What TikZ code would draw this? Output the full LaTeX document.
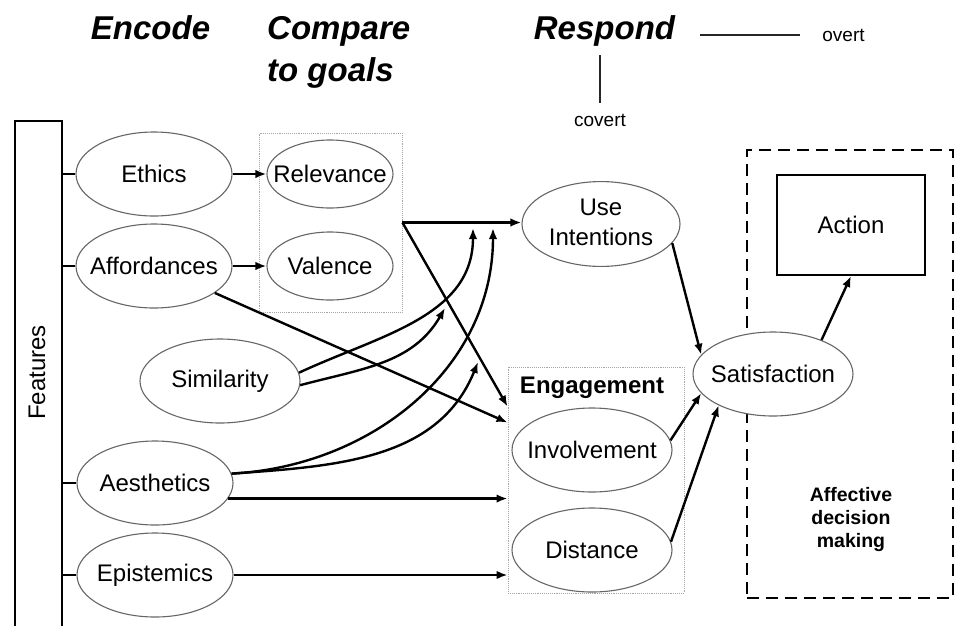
\documentclass[tikz,border=0pt]{standalone}
\usepackage{fontspec}
\setmainfont{Liberation Sans}
\usetikzlibrary{arrows.meta,shapes.geometric,calc}
\newcommand\ovl[1]{\makebox[0pt][c]{#1}}
\begin{document}
\begin{tikzpicture}[x=1pt,y=1pt,
  oval/.style={ellipse,draw=black!60,fill=white,line width=1.1pt,inner sep=0pt,
    minimum width=156pt,minimum height=84pt,
    font=\fontsize{24}{30}\selectfont},
  grpbox/.style={rectangle,draw=black!35,densely dotted,line width=0.9pt,inner sep=0pt},
  title/.style={font=\fontsize{33}{42}\selectfont\bfseries\itshape,inner sep=0pt},
  small/.style={font=\fontsize{19}{23}\selectfont,inner sep=0pt},
  arr/.style={line width=2.4pt,-{Latex[length=11pt,width=8.5pt]}},
  stub/.style={line width=2.4pt},
  thinline/.style={line width=1.2pt,black!85},
]
\useasboundingbox (0,0) rectangle (954,-625);

% titles
\node[title] (encode) at (150.5,-28) {Encode};
\node[title,align=left,anchor=north west] (compare) at (267,-16) {Compare\\to goals};
\node[title] (respond) at (604.5,-31) {Respond};
\node[small] (overt) at (843.5,-35) {overt};
\node[small] (covert) at (600,-120) {covert};
\coordinate (ovA) at (700,-35);
\coordinate (ovB) at (800,-35);
\coordinate (cvA) at (600,-55);
\coordinate (cvB) at (600,-103);
\draw[thinline] (ovA) -- (ovB);
\draw[thinline] (cvA) -- (cvB);

% features bar
\node[rectangle,draw,line width=2pt,minimum width=47pt,minimum height=518pt,inner sep=0pt] (features) at (38.5,-380) {};
\node[rotate=90,font=\fontsize{24}{30}\selectfont,inner sep=0pt] (featlabel) at (37,-372.5) {Features};

% affective decision making (drawn first, behind the Satisfaction oval)
\node[rectangle,draw,line width=2pt,dash pattern=on 12pt off 7pt,minimum width=206pt,minimum height=448pt,inner sep=0pt] (adm) at (850,-374) {};
\node[rectangle,draw,line width=2pt,minimum width=148pt,minimum height=100pt,inner sep=0pt,font=\fontsize{24}{30}\selectfont] (action) at (851,-225) {Action};
\node[font=\fontsize{19.5}{23}\selectfont\bfseries,align=center,inner sep=0pt] (admlabel) at (851,-519) {Affective\\decision\\making};

% encode ovals
\node[oval] (ethics) at (154,-174) {\ovl{Ethics}};
\node[oval] (affordances) at (154,-266) {\ovl{Affordances}};
\node[oval,minimum width=160pt] (similarity) at (220,-381) {\ovl{Similarity}};
\node[oval] (aesthetics) at (155,-483) {\ovl{Aesthetics}};
\node[oval] (epistemics) at (155,-575) {\ovl{Epistemics}};

% compare box
\node[grpbox,minimum width=143pt,minimum height=179pt] (cmpbox) at (330.5,-222.5) {};
\node[oval,minimum width=126pt,minimum height=68pt] (relevance) at (330,-174) {\ovl{Relevance}};
\node[oval,minimum width=126pt,minimum height=68pt] (valence) at (330,-266) {\ovl{Valence}};

% respond
\node[oval,minimum width=158pt] (useint) at (601,-224) {\ovl{\raisebox{-2pt}{\begin{tabular}{@{}c@{}}Use\\Intentions\end{tabular}}}};
\node[grpbox,minimum width=176pt,minimum height=226pt] (engbox) at (596,-480) {};
\node[font=\fontsize{24}{30}\selectfont\bfseries,inner sep=0pt] (engtitle) at (592,-388) {Engagement};
\node[oval,minimum width=160pt] (involvement) at (592,-450) {\ovl{Involvement}};
\node[oval,minimum width=160pt] (distance) at (592,-550) {\ovl{Distance}};
\node[oval,minimum width=160pt] (satisfaction) at (773,-374) {\ovl{Satisfaction}};

% stubs
\draw[stub] (features.east |- ethics) -- (ethics.west);
\draw[stub] (features.east |- affordances) -- (affordances.west);
\draw[stub] (features.east |- aesthetics) -- (aesthetics.west);
\draw[stub] (features.east |- epistemics) -- (epistemics.west);

% encode -> compare
\draw[arr] (ethics) -- (relevance);
\draw[arr] (affordances) -- (valence);

% compare -> respond
\coordinate (engA) at ($(engbox.north west)+(0,-40)$);
\coordinate (engB) at ($(engbox.north west)+(0,-56)$);
\draw[arr] (cmpbox.east) -- (cmpbox.east -| useint.west);
\draw[arr] (cmpbox.east) -- (engA);
\draw[arr] (affordances) -- (engB);

% curves
\coordinate (uiA) at (473,-228);
\coordinate (uiB) at (493,-228);
\coordinate (freeA) at (445,-308);
\coordinate (freeB) at (478,-362);
\draw[arr] (similarity.6) to[out=25,in=-90] (uiA);
\draw[arr] (similarity.-3) to[out=15,in=240] (freeA);
\draw[arr] (aesthetics.7) to[out=3,in=-90] (uiB);
\draw[arr] (aesthetics.7) to[out=4,in=-112] (freeB);

% straight to engagement
\draw[arr] (aesthetics.-12) -- (aesthetics.-12 -| engbox.west);
\draw[arr] (epistemics.east) -- (epistemics.east -| engbox.west);

% to satisfaction and action
\draw[arr] (useint.-15) -- (satisfaction.165);
\draw[arr] (involvement.7) -- (satisfaction.-165);
\draw[arr] (distance.6) -- (satisfaction.-150);
\draw[arr] (satisfaction.35) -- (action.south);
\end{tikzpicture}
\end{document}
